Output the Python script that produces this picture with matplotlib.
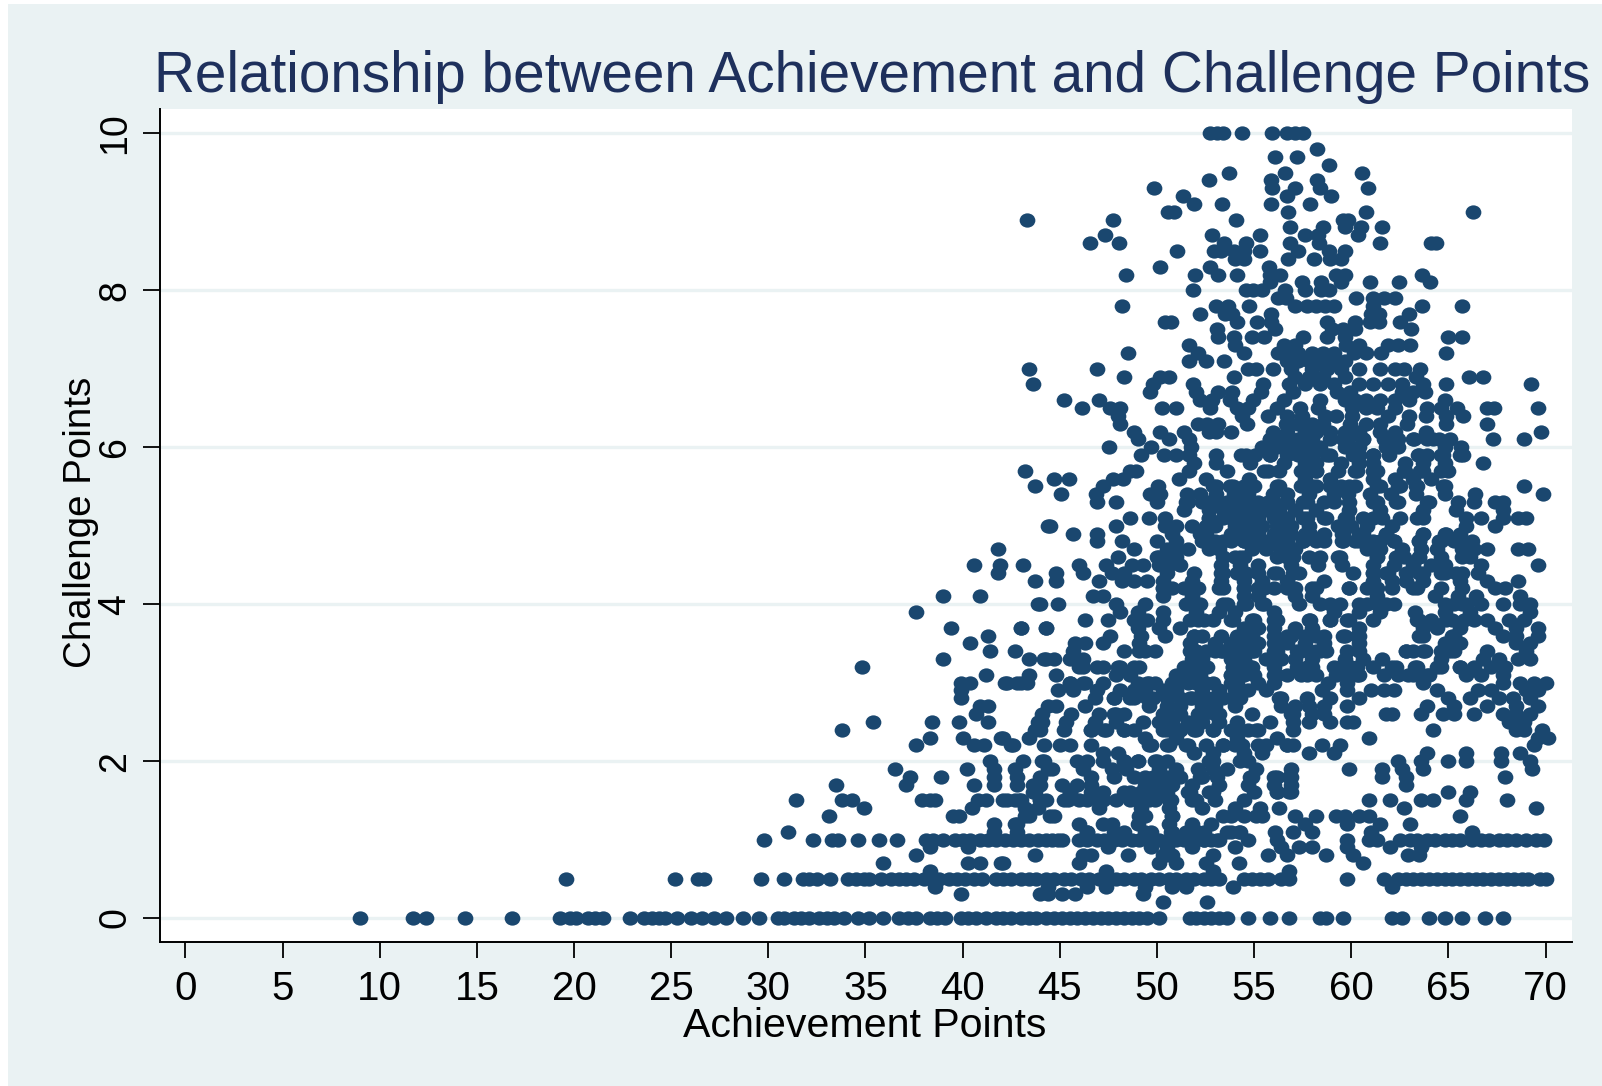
import numpy as np
import matplotlib
matplotlib.use('Agg')
import matplotlib.pyplot as plt
from matplotlib.markers import MarkerStyle
from matplotlib.patches import Rectangle
from matplotlib.transforms import Affine2D

# Achievement values, one list per Challenge level
c000 = [9.0,11.7,12.4,14.4,16.8,19.3,19.8,20.1,20.7,21.1,21.5,22.9,23.6,24,24.4,24.7,25.3,26,26.6,27.2,27.8,28.7,29.5,30.5,30.8,31.3,31.7,32.1,32.6,33,33.4,33.9,34.6,35.2,35.9,36.7,37.2,37.6,38.3,38.7,39.1,39.9,40.3,40.7,41.2,41.7,42.1,42.5,43,43.4,43.8,44.3,44.7,45.1,45.5,45.9,46.3,46.7,47.1,47.5,47.9,48.3,48.7,49.1,49.5,50.1,51.7,52,52.4,52.8,53.2,53.6,54.7,55.8,56.8,58.4,58.7,59.6,62.1,62.6,64,64.8,65.7,66.9,67.8]
c002 = [50.3,52.6]
c003 = [39.9,44.0,44.4,45.1,45.8,49.3]
c004 = [38.6,44.4,46.4,47.4,49.4,50.8,51.5,53.9,62.1]
c005 = [19.6,25.2,26.4,26.7,29.6,30.8,31.8,32.1,32.5,33.2,34.1,34.5,34.9,35.2,35.8,36.3,36.7,37.1,37.5,38,38.4,38.8,39.3,39.7,40.1,40.6,41,41.7,42.1,42.5,43,43.4,43.8,44.3,44.7,45.2,45.6,46.1,46.5,47,47.4,47.9,48.3,48.8,49.2,49.7,50.1,50.6,51,51.5,51.9,52.4,52.8,53.2,54.5,54.9,55.3,55.7,56.4,56.8,59.8,61.7,62.4,62.8,63.2,63.6,64,64.4,64.8,65.2,65.6,66,66.4,66.8,67.2,67.6,68,68.4,68.8,69.1,69.7,70]
c006 = [38.3,47.4,52.9,56.8]
c007 = [35.9,40.3,40.9,42,42.1,46,50.1,51,52.5,54.2,60.6]
c008 = [37.6,43.7,46.6,48.5,50.5,52.9,55.7,56.7,58.7,60.1,62.9,63.5,46.2,50.3,50.8]
c009 = [38.3,40.3,47.5,49.7,50.5,51.8,54,56.4,57.3,58,59.8,62,63.6]
c010 = [29.8,32.3,33.3,33.6,34.6,35.7,36.6,38.1,38.5,39,39.6,40,40.4,40.9,41.3,41.7,42.2,42.6,43,43.4,43.9,44.3,44.6,44.9,45.1,46,46.4,46.9,47.3,47.8,48.2,48.7,49.1,49.6,50.1,50.6,51,51.4,51.9,52.4,52.8,53.2,54.7,56.2,59.8,60.9,61.3,62.5,63,63.4,63.9,64.3,64.8,65.2,65.6,66.2,66.7,67.1,67.6,68,68.5,69,69.5,69.9,51.7,52.4,53.1]
c011 = [31.0,41.6,42.8,46.4,48.3,49.4,50.8,52.1,53.6,54.2,56.1,57,58,61,66.2]
c012 = [41.6,42.7,42.8,46,47.2,47.7,49,50.6,51.8,52.8,57.6,59.8,61.5,63]
c013 = [33.1,39.5,39.8,43.2,43.4,44.5,44.7,49.4,50.8,53.4,54.5,55.4,57.1,58.2,59.2,59.7,60.4,60.9,65.6]
c014 = [34.9,40.5,43.2,43.9,47,49.2,50.6,52.3,54,55.3,56.3,62.7,69.5]
c015 = [31.4,33.8,34.3,37.9,38.3,38.6,40.8,41.2,42.1,42.7,42.9,44.0,44.3,45.2,46,47,47.9,49,49.9,50.6,51.8,53,54.5,60.9,62,63.6,64.2,65.9,68]
c016 = [43.6,43.7,45.5,47.2,48.3,49.2,50.1,51.6,52.9,56.2,56.9,65,66.1]
c017 = [33.5,37.1,40.6,41.6,42.8,43.6,44.0,45.1,45.9,46.6,49.4,50.1,50.8,51.8,53.2,54.7,56,56.9,62.8]
c018 = [37.3,38.9,41.6,42.8,44,46.6,49.4,50.3,51.2,52.3,54.9,56,56.9,61.6,62.8,67.9]
c019 = [36.5,40.2,41.6,42.7,44.4,44.6,46.2,47.7,48.4,50.1,51,52.1,52.9,53.6,55.1,56.9,59.9,61.6,62.6,63.7,69.3]
c020 = [41.4,43.1,44.1,44.2,45.9,46.4,48.3,49,49.9,50.5,52.9,54.7,62.4,63.6,65,65.9,67.7,69.2]
c021 = [47.2,48,51.9,52.9,54.5,55.4,57.8,59.1,63.9,65.9,67.7,68.7]
c022 = [37.6,40.6,41.1,42.5,42.6,44.2,45,45.5,46.6,49.7,50.6,51.6,52.5,53.4,54,55.2,56.7,57,58.5,59.4,69.4]
c023 = [38.3,40,42,42.1,43.4,49.4,51,54.1,56.2,60.9,69.6,70.1]
c024 = [33.8,43.7,44.0,45.2,46.6,47.3,48.3,48.8,50.5,51.2,51.9,52.9,53.8,54.7,55.2,57,64.2,68.5,68.9,69.8]
c025 = [35.4,38.4,39.8,41.3,43.9,44.1,45.3,46.8,47.9,49.3,50.1,50.8,51.6,52.3,53.2,54.1,55.8,57,57.8,58.9,59.8,60.1,68.1,68.9]
c026 = [40.7,44.1,45.6,47,47.9,48.3,50.5,51.2,52.1,53,54.9,56.9,58.6,61.8,62.1,63.6,64.7,65.3,66.3,67.8,68.5,69.2]
c027 = [40.9,41.3,44.4,44.8,46.3,49.6,50.5,51.2,52.3,53,54,56.4,57.1,57.8,58.6,59.8,63.9,65.3,67,68.5,69.6]
c028 = [39.9,46.8,47.8,48.6,49.5,50.5,51.8,52.6,53.4,54.3,56.4,58.9,60.4,65,66.1,67.6,68.3,69.2]
c029 = [39.9,44.9,45.7,46.9,48.1,48.8,49.4,50.3,51,52.3,53.2,54,54.7,55.6,58.5,59.8,61,61.7,62.2,64.4,66.5,67.2,69,69.6]
c030 = [39.9,40.4,42.2,42.3,42.8,43,43.3,45.5,46.3,47.2,49.5,49.9,50.8,51.6,52.5,53.8,55.2,58.8,59.8,63.7,67.8,68.7,69.4,70]
c031 = [41.2,43.4,44.8,47.9,48.6,51,51.9,53.8,54.5,56.2,56.7,57.7,59.8,60.4,62.4,63.2,63.9,65.9,66.7,67.8]
c032 = [34.8,46.2,47.2,48,48.8,51.4,54,54.9,58,59.1,60,61.1,62.1,63.3,64.6,65.6,66.3,67.2,67.9]
c033 = [39,43.4,44.2,44.3,44.7,45.5,46.2,51.8,52.3,53.8,54.5,55.6,56.4,57.1,58,59.7,60.6,61.6,64.6,66.8,67.6,68.6,69.2]
c034 = [41.4,42.7,45.7,48.3,49.4,49.9,51.7,52.5,53,54,54.9,57.8,58.2,60.4,62.8,63.2,63.8,64.6,65.3,67,69]
c035 = [40.4,45.8,46.3,47.2,49.1,51.7,53,53.8,54.5,55.2,56,56.7,57.6,58.6,60.4,64.8,65.6,68.5,69.2]
c036 = [41.3,47.6,49.2,50.4,51.9,52.3,54.1,54.9,56.7,57.6,58.6,59.7,60.4,63.7,65.2,67.8,68.5,69.6]
c037 = [39.4,43,43,44.3,44.3,49,50.1,51.2,54.5,55.2,56,57.1,58,60.4,63.7,64.4,65.6,67.4,68.5,69.6]
c038 = [46.3,47.5,48.8,49.5,50.3,52.1,52.9,53.8,54.9,56.2,57.8,58.9,59.8,61.1,63.5,64.1,65.2,66.3,67,68.1,68.9]
c039 = [37.6,48.1,49,50.3,52,53.2,54,56,59.1,60.4,61.5,63.3,64.8,66.1,69.2]
c040 = [43.9,44,44.9,47.9,49.4,51.8,53.4,54.5,55.4,57.3,59.4,60.4,61.3,62.2,64.8,65.7,66.7,67.8,68.7,69.2]
c041 = [39,40.9,46.7,47.2,50.3,51.8,54.5,55.2,57.1,58,61.3,64.3,65.5,66.4,68.7]
c042 = [50.3,50.8,51.9,53.2,54.5,55.2,56,57.1,58.2,59.9,60.8,62.1,63.2,64.6,65.7,67.4,67.9]
c043 = [43.7,44.8,47,48.2,48.8,49.5,50.3,51.8,53.3,54.5,55.4,56.7,58.6,61.1,62.1,62.8,63.7,65.6,67,68.6]
c044 = [41.8,44.8,46.2,47.7,48.3,50.5,51.9,53.3,54.1,55.2,56,57.3,60.1,61.1,61.9,62.8,63.7,64.8,65.7,66.5]
c045 = [40.6,41.9,43.1,46,47.4,48.7,49.3,50.1,50.6,51.2,53.3,54.3,55.2,56.9,58.3,59.5,61.1,62.2,63.2,64.1,64.8,66.7,69.6]
c046 = [48,50.1,50.6,54,54.5,56.7,57.8,59.3,61.3,62.7,63.5,64.6,65.7,66.1]
c047 = [41.8,48.8,50.5,51,51.6,52.7,53.2,54.9,55.6,56.4,57.1,60.8,61.5,62.6,63.6,64.4,65.7,66.3,67,68.6,69.1]
c048 = [46.9,48.2,50,51,52.3,53,53.8,54.5,55.2,56,56.7,57.5,58.2,59.5,60.2,61.1,62.2,63.5,64.5,65.3,66.2]
c049 = [45.7,46.9,50.8,52.5,53.8,54.5,55.2,56.2,56.9,57.6,58.6,59.5,60.4,61.8,63.7,64.8]
c050 = [44.4,44.5,47.9,50.4,51,51.8,52.5,53,54,54.7,55.4,56.2,56.9,57.8,59.3,60,60.8,62.1,65.9,67.4]
c051 = [48.6,49.6,50.4,52.7,53.8,54.5,55.2,56,56.7,57.5,58.6,59.7,61.1,61.6,63.7,65.9,66.7,67.8,68.6,69]
c052 = [51.4,52.7,53.4,54.1,54.9,55.6,56.3,57.1,58.2,59.9,61.5,63.7,65.4,67.8]
c053 = [46.9,47.9,50,51.6,52.3,53,53.8,54.5,55.2,56,56.7,57.5,58.6,59.1,61.1,62.4,63.9,65.5,66.3,67.4,67.8]
c054 = [45.04,46.86,49.62,50.18,51.56,52.2,53.03,53.95,54.69,55.98,56.71,57.82,59.1,59.84,60.95,62.05,63.34,64.82,66.38,69.88]
c055 = [43.73,47.23,50.03,53.03,53.77,54.5,56.16,57.63,58.19,59.47,60.21,61.5,62.42,63.34,64.82,68.87]
c056 = [44.71,45.48,47.74,48.24,51.13,52.53,54.72,57.63,58.92,61.13,62.24,63.16,64.08]
c057 = [43.23,48.6,48.9,51.65,53.62,55.7,57.45,58.19,60.21,61.13,62.79,63.53,65]
c058 = [51.92,53.03,54.78,56.53,57.63,58.19,59.47,60.4,61.13,62.79,63.71,64.82,66.77]
c059 = [49.16,50.36,51,51.65,53.03,54.32,55.05,55.8,57.27,58,58.74,60.4,61.13,61.96,63.43,63.9,64.72,65.74]
c060 = [47.54,49.71,51.74,55.42,56.16,56.9,57.63,58.37,59.66,60.4,61.78,62.42,64.82,65.65]
c061 = [49,50.64,51.65,55.8,56.53,57.27,58,58.92,59.84,60.58,61.78,62.42,63.25,63.9,64.54,67.3,68.87]
c062 = [48.83,50.16,51.37,52.66,53.03,53.82,55.98,56.7,57.63,58.19,58.92,59.66,60.4,61.5,62.24,63.86,69.79]
c063 = [48.11,52.11,52.57,53.12,54.61,56.62,57.27,58,58.55,59.94,60.76,61.5,62.88,64.87,66.99]
c064 = [48.02,54.36,55.7,56.71,57.45,58.65,59.2,60.03,61.87,62.97,63.86,64.9,65.77]
c065 = [46.12,47.6,48.11,50.27,51,52.75,54.13,54.69,56.16,57.36,58.28,60.03,60.76,61.32,62.24,63.9,64.63,65.46,67,67.35,69.6]
c066 = [45.24,47,52.2,52.85,53.77,54.96,56.53,58.37,59.66,60.21,60.76,61.5,62.24,62.97,64.82]
c067 = [49.62,52.02,53.12,53.86,55.33,56.99,59.29,59.94,62.6,63.16,63.8]
c068 = [43.64,49.81,51.85,55.46,56.8,57.63,58.37,59.1,60.4,61.13,61.87,62.6,63.71,64.87,69.27]
c069 = [48.31,50.18,50.63,53.95,57.08,57.82,58.55,59.66,63.34,66.07,66.77]
c070 = [43.42,46.92,54.69,55.09,55.98,56.9,58,58.74,59.47,60.4,61.46,62.24,62.7,63.56]
c071 = [51.67,52.53,53.44,56.71,57.27,57.82,58.37,59.02,59.66]
c072 = [48.52,52.11,54.5,56.25,56.71,57.27,58,58.55,59.1,60.12,60.77,61.54,64.87]
c073 = [51.67,54.04,56.53,57.08,59.75,60.4,61.87,62.42,63.01]
c074 = [53.16,53.95,54.87,55.5,57.54,58.74,59.66,64.96,65.7]
c075 = [53.07,56.07,59,59.57,60.21,63.07]
c076 = [50.4,50.7,54.13,55.15,55.85,58.74,60.17,60.95,61.41,62.52]
c077 = [52.24,53.5,53.86,55.85,61.04,61.41,62.97]
c078 = [48.22,53.03,53.67,54.72,57.12,57.73,58.19,58.65,59.11,61.13,63.66,65.7]
c079 = [56.25,56.62,60.25,61.13,61.69,62.27]
c080 = [51.85,54.6,54.96,55.42,56.58,57.6,58.46,58.83]
c081 = [55.8,57.45,58.46,59.47,60.99,62.46,64.06]
c082 = [48.43,51.94,53.12,54.13,55.8,56.34,59.2,59.7,63.66]
c083 = [50.16,52.75,55.76]
c084 = [54.04,54.5,56.77,58.06,58.92,59.47]
c085 = [51.02,52.94,53.3,53.95,54.5,55.28,57.26,58.83,59.7]
c086 = [46.55,48.06,53.44,54.6,56.86,58.33,61.46,64.08,64.36]
c087 = [47.32,52.85,55.28,57.63,58.28,60.36]
c088 = [56.86,58.55,59.7,60.5,61.56]
c089 = [43.3,47.74,54.06,59.57,59.85]
c090 = [50.55,50.9,56.77,60.78,66.27]
c091 = [51.92,53.34,55.85,57.87]
c092 = [51.35,56.71,58.94]
c093 = [49.83,55.92,57.08,58.37,60.87]
c094 = [52.66,55.85,58.26]
c095 = [53.73,56.58,60.56]
c096 = [58.85]
c097 = [56.05,57.23]
c098 = [58.26]
c100 = [52.75,53.1,53.4,54.36,55.94,56.7,57.1,57.54]

challenge_levels = [0,.2,.3,.4,.5,.6,.7,.8,.9,1,1.1,1.2,1.3,1.4,1.5,1.6,1.7,1.8,1.9,2,2.1,2.2,2.3,2.4,2.5,2.6,2.7,2.8,2.9,3,3.1,3.2,3.3,3.4,3.5,3.6,3.7,3.8,3.9,4,4.1,4.2,4.3,4.4,4.5,4.6,4.7,4.8,4.9,5,5.1,5.2,5.3,5.4,5.5,5.6,5.7,5.8,5.9,6,6.1,6.2,6.3,6.4,6.5,6.6,6.7,6.8,6.9,7,7.1,7.2,7.3,7.4,7.5,7.6,7.7,7.8,7.9,8,8.1,8.2,8.3,8.4,8.5,8.6,8.7,8.8,8.9,9,9.1,9.2,9.3,9.4,9.5,9.6,9.7,9.8,10]
achievement_rows = [c000,c002,c003,c004,c005,c006,c007,c008,c009,c010,c011,c012,c013,c014,c015,c016,c017,c018,c019,c020,c021,c022,c023,c024,c025,c026,c027,c028,c029,c030,c031,c032,c033,c034,c035,c036,c037,c038,c039,c040,c041,c042,c043,c044,c045,c046,c047,c048,c049,c050,c051,c052,c053,c054,c055,c056,c057,c058,c059,c060,c061,c062,c063,c064,c065,c066,c067,c068,c069,c070,c071,c072,c073,c074,c075,c076,c077,c078,c079,c080,c081,c082,c083,c084,c085,c086,c087,c088,c089,c090,c091,c092,c093,c094,c095,c096,c097,c098,c100]

d061 = [55.8,56.8,57.9,59.6,60.6,61.7,63.2,64.2,65.1]
d059 = [54.6,55.8,56.7,58,58.9,60.1,61.1,63.5,64.6,65.6]
d057 = [55.5,56.3,57.4,58.2,59.3,60.3,61.3,62.7,63.7,64.6]
d055 = [52.9,53.9,55,56.3,57.4,58,58.9,59.9,61.3,62.5,63.4,64.7]
d053 = [51.5,52.6,53.6,54.6,55.7,56.7,57.7,59.9,61.3,62.3,64]
d051 = [52.7,53.4,54.8,56.5,57.7,58.7,59.8,60.6,62.5,63.4]
d049 = [52.2,53.9,55,56,56.7,57.9,59.6,60.6,61.8,63.7,64.9,65.6]
d048 = [52.4,53.4,54.5,55.5,56.5,57.5,58.6,59.6,60.4,61.5,62.2,63.5,64.6,65.6]
d046 = [50,51,53.4,54.3,56.2,57,58.4,59.4,61.3,62.3,63.5]
d044 = [53.4,54.6,56.2,57,61.1,61.8,63.5,64.6,65.4]
d042 = [50.3,51.4,52.1,53.4,54.5,55.5,56.7,58,59.9,61.3,63.4]
d040 = [51.5,52.2,53.6,54.6,55.5,58.4,58.9,60.8,61.8,65.3,65.9]
d038 = [49,51.7,52.4,53.9,55,56,57.9,58.9,59.9,63.4,64.9,65.8]
d036 = [51.9,53.3,54.3,56,56.9,58.2,59.6,60.3,63.5,65.3]
d034 = [49.1,52,53.3,55,56,57.2,58.7,59.8,62.8,63.7,65.1,52,53.4,54.4,56.2,57.4,58.4]
d032 = [49.1,51.9,53.9,54.8,56,57.2,57.9,59.4,60.3,62.3,63.4,64.4,65.6,46,46.9,48.1,51.7,52.6,53.9,54.8,57.7]
d031 = [51.2,52.2,53.8,55,56,57.4,58.2,59.2,60.3,61.7,62.9,64]
d030 = [45.5,46.2,49,49.6,51,52,52.9,54.1,56]
d028 = [47.8,48.8,49.8,51.2,51.7,52.9,53.9,56.3,57.7]
d026 = [47.8,50.3,52.4,53.2,57,58]
d024 = [46.6,47.4,48.3,50.3,51.2,52,52.9,54.1,55.1]
d022 = [49.6,50.5,51.5,53.4,54.4,55.6,56.7]
d020 = [47.2,48.3,49,50,52.7,54.3]
d018 = [47.8,48.8,49.8,50.5,52.2,53.1,54.8,56.2,56.8]
d016 = [45.5,46.6,48.6,49.5,50.5,51.7,52.7,55,56.2,56.8]
d015 = [42.3,43,44,45.4,46.4,47.2,48.6,49.6,50.7,52]
d013 = [49.1,50.8,53.8,55.1]
d011 = [46.4,47.8,49.7,50.7,51.5,52.4,53.8,54.3]

dense_levels = [6.1,5.9,5.7,5.5,5.3,5.1,4.9,4.8,4.6,4.4,4.2,4,3.8,3.6,3.4,3.2,3.1,3,2.8,2.6,2.4,2.2,2,1.8,1.6,1.5,1.3,1.1]
dense_rows = [d061,d059,d057,d055,d053,d051,d049,d048,d046,d044,d042,d040,d038,d036,d034,d032,d031,d030,d028,d026,d024,d022,d020,d018,d016,d015,d013,d011]

x_ticks = list(range(0, 75, 5))
y_ticks = [0, 2, 4, 6, 8, 10]

plt.rcParams['font.family'] = ['Liberation Sans', 'DejaVu Sans']

W, H = 1602, 1086
BG = '#eaf2f3'
NAVY = '#1a476f'

fig = plt.figure(figsize=(W / 100, H / 100), dpi=100, facecolor='white')
fig.add_artist(Rectangle((8 / W, 0), (W - 8) / W, 1 - 4 / H, transform=fig.transFigure,
                         facecolor=BG, edgecolor='none', zorder=-1))

ax = fig.add_axes([160.3 / W, 1 - 941.7 / H, (1572 - 160.3) / W, (941.7 - 109) / H])
ax.set_facecolor('white')

all_rows = achievement_rows + dense_rows
all_levels = challenge_levels + dense_levels
x = np.concatenate(all_rows)
y = np.concatenate([np.full(len(r), c) for r, c in zip(all_rows, all_levels)])
# dots in the reference are a little wider than tall
dot = MarkerStyle('o', transform=Affine2D().scale(1.1, 1.0))
ax.scatter(x, y, s=106, color=NAVY, marker=dot, linewidths=0, zorder=3)

ax.set_xlim(-1.29, 71.36)
ax.set_ylim(-0.302, 10.31)
ax.set_xticks(x_ticks)
ax.set_yticks(y_ticks)
ax.grid(axis='y', color=BG, linewidth=2.4, zorder=1)
ax.set_axisbelow(True)

for side in ['top', 'right']:
    ax.spines[side].set_visible(False)
for side in ['left', 'bottom']:
    ax.spines[side].set_linewidth(1.4)

ax.tick_params(axis='x', length=11.5, width=1.3, pad=9, labelsize=29)
ax.tick_params(axis='y', length=12, width=1.3, pad=7.5, labelsize=27)
for lab in ax.get_yticklabels():
    lab.set_rotation(90)
    lab.set_va('center')

fig.text(154 / W, 1 - 92 / H, 'Relationship between Achievement and Challenge Points',
         fontsize=40.9, color='#1e305c', ha='left', va='baseline')
fig.text(865 / W, 1 - 1026 / H, 'Achievement Points', fontsize=29.6, ha='center', va='center')
fig.text(81 / W, 1 - 522 / H, 'Challenge Points', fontsize=27.7, rotation=90, ha='center', va='center')

fig.savefig('out.png', dpi=100, facecolor=fig.get_facecolor())
